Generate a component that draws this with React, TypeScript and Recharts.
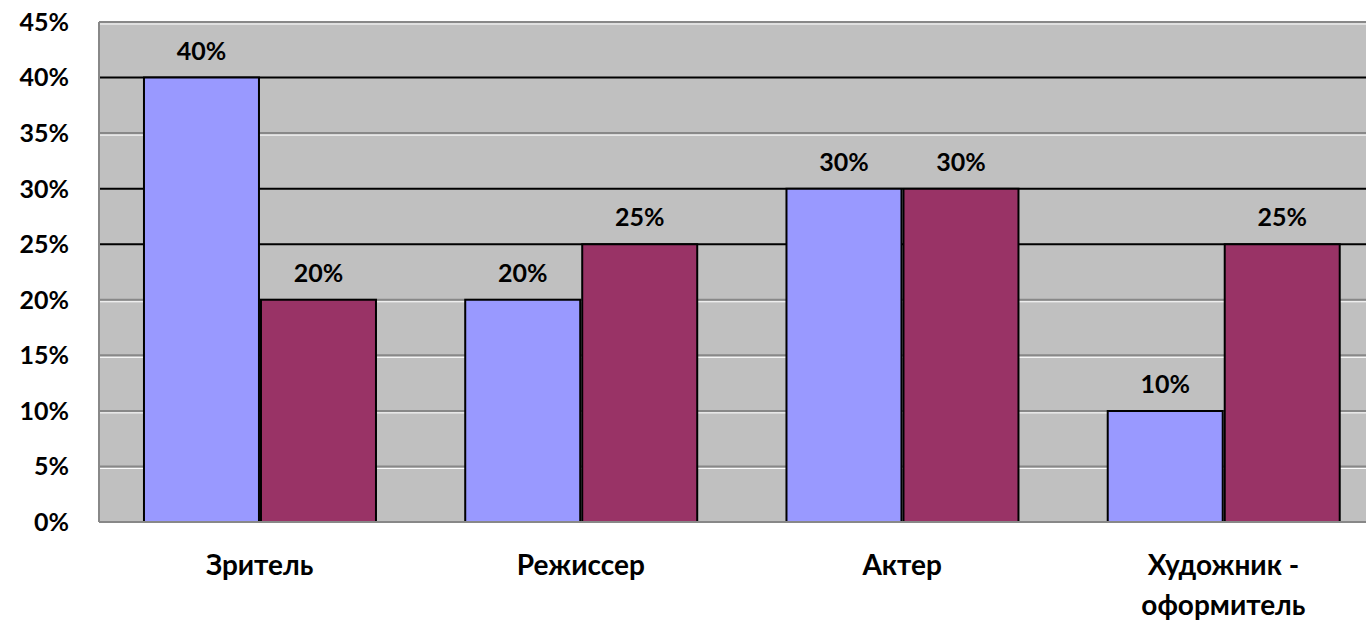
import { BarChart, Bar, XAxis, YAxis, CartesianGrid, LabelList } from 'recharts';

const categories = ['Зритель', 'Режиссер', 'Актер', 'Художник -\nоформитель'];
const seriesA = [40, 20, 30, 10];
const seriesB = [20, 25, 30, 25];
const yTicks = [0, 5, 10, 15, 20, 25, 30, 35, 40, 45];
const darkLines = [40, 30, 25];

const data = categories.map((name, i) => ({ name, a: seriesA[i], b: seriesB[i] }));

const TOP = 22;
const PLOT_H = 500;
const FONT = 'Lato, "Open Sans", sans-serif';
const TEXT = { fontFamily: FONT, fontWeight: 700, fontSize: 25, fill: '#000' };

const GridLine = (props: any) => {
  const { x1, x2, y1 } = props;
  const v = Math.round(((TOP + PLOT_H - y1) / PLOT_H) * 45);
  if (v === 0) return <g />;
  const dark = darkLines.includes(v);
  return (
    <g>
      <line x1={x1} x2={x2} y1={y1} y2={y1} stroke={dark ? '#000' : '#888'} strokeWidth={2} />
      {!dark && <line x1={x1} x2={x2} y1={y1 + 2} y2={y1 + 2} stroke="#fff" strokeWidth={1} />}
    </g>
  );
};

// category labels, the last one wraps onto two lines
const CatTick = (props: any) => {
  const { x, y, payload } = props;
  const lines = String(payload.value).split('\n');
  return (
    <text x={x} y={y} textAnchor="middle" {...TEXT} fontSize={28}>
      {lines.map((l, i) => (
        <tspan key={i} x={x} dy={i === 0 ? 45 : 40}>
          {l}
        </tspan>
      ))}
    </text>
  );
};

const pct = (v: any) => `${v}%`;

const App = () => {
  return (
    <div style={{ position: 'absolute', left: 0, top: 0, width: 1366, height: 622, overflow: 'hidden', background: '#fff' }}>
      <BarChart
        width={1384}
        height={622}
        data={data}
        margin={{ top: TOP, right: 0, left: 0, bottom: 0 }}
        barCategoryGap="14%"
        barGap={2}
      >
        <CartesianGrid
          vertical={false}
          fill="#C0C0C0"
          fillOpacity={1}
          horizontal={(p: any) => <GridLine {...p} key={p.key} />}
        />
        <XAxis
          dataKey="name"
          height={100}
          interval={0}
          tickLine={false}
          axisLine={{ stroke: '#888', strokeWidth: 2 }}
          tick={<CatTick />}
        />
        <YAxis
          width={99}
          domain={[0, 45]}
          ticks={yTicks}
          interval={0}
          tickSize={0}
          tickMargin={30}
          tickFormatter={pct}
          axisLine={{ stroke: '#888', strokeWidth: 2 }}
          tick={TEXT}
        />
        <Bar dataKey="a" fill="#9999FF" stroke="#000" strokeWidth={2} isAnimationActive={false}>
          <LabelList dataKey="a" position="top" offset={18} formatter={pct} style={TEXT} />
        </Bar>
        <Bar dataKey="b" fill="#993366" stroke="#000" strokeWidth={2} isAnimationActive={false}>
          <LabelList dataKey="b" position="top" offset={18} formatter={pct} style={TEXT} />
        </Bar>
      </BarChart>
    </div>
  );
};

export default App;
